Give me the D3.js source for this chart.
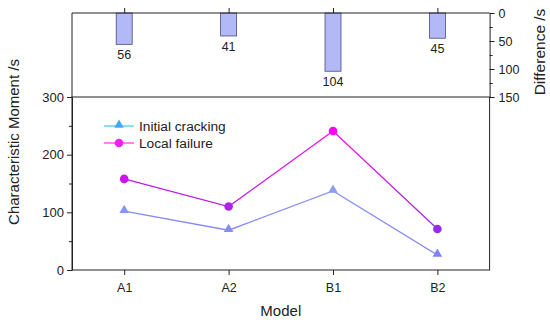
<!DOCTYPE html>
<html>
<head>
<meta charset="utf-8">
<script src="https://d3js.org/d3.v7.min.js"></script>
<style>
body { margin: 0; background: #fff; }
text { font-family: "Liberation Sans", Arial, sans-serif; fill: #222; }
.axis path, .axis line { stroke: #222; }
</style>
</head>
<body>
<div id="chart"></div>
<script>
var models = ["A1", "A2", "B1", "B2"];
var initialCracking = [102, 69, 137, 26];
var localFailure = [158, 110, 241, 71];
var difference = [56, 41, 104, 45];
var leftTicks = [0, 100, 200, 300];
var rightTicks = [0, 50, 100, 150];

var width = 550, height = 323;
var left = 72, right = 489.6;
var topTop = 13, topBottom = 97, botBottom = 270;

var svg = d3.select("#chart").append("svg")
  .attr("width", width).attr("height", height);

var x = d3.scaleLinear().domain([-0.5, 3.5]).range([left, right]);
var y = d3.scaleLinear().domain([0, 300]).range([botBottom, topBottom]);
var yd = d3.scaleLinear().domain([0, 150]).range([topTop, topBottom]);

// gradients for the lines
var defs = svg.append("defs");
function grad(id, c0, c1) {
  var g = defs.append("linearGradient").attr("id", id)
    .attr("gradientUnits", "userSpaceOnUse")
    .attr("x1", 0).attr("x2", 0)
    .attr("y1", y(60)).attr("y2", y(240));
  g.append("stop").attr("offset", 0).attr("stop-color", c0);
  g.append("stop").attr("offset", 1).attr("stop-color", c1);
}
grad("gLocal", "#8f2ee8", "#ff00f0");
grad("gInit", "#8484f4", "#8fa6ee");

// top panel bars
svg.selectAll(".bar").data(difference).enter().append("rect")
  .attr("x", function(d, i) { return x(i) - 8; })
  .attr("y", yd(0))
  .attr("width", 16)
  .attr("height", function(d) { return yd(d) - yd(0); })
  .attr("fill", "#b3b9f6")
  .attr("stroke", "#4a4a7a")
  .attr("stroke-width", 0.8);

svg.selectAll(".barlab").data(difference).enter().append("text")
  .attr("x", function(d, i) { return x(i); })
  .attr("y", function(d) { return yd(d) + 15; })
  .attr("text-anchor", "middle")
  .style("font-size", "12.5px")
  .text(function(d) { return d; });

// top panel frame
svg.append("line").attr("x1", left).attr("x2", right)
  .attr("y1", topTop).attr("y2", topTop).attr("stroke", "#222");
svg.append("line").attr("x1", left).attr("x2", left)
  .attr("y1", topTop).attr("y2", topBottom).attr("stroke", "#222");

// top ticks (upward at each model)
svg.append("g").attr("class", "axis")
  .attr("transform", "translate(0," + topTop + ")")
  .call(d3.axisTop(x).tickValues([0, 1, 2, 3]).tickFormat("").tickSize(5).tickSizeOuter(0))
  .select(".domain").remove();

// right axis for difference
var ra = svg.append("g").attr("class", "axis")
  .attr("transform", "translate(" + right + ",0)")
  .call(d3.axisRight(yd).tickValues(rightTicks).tickSize(5).tickSizeOuter(0));
ra.selectAll("text").style("font-size", "12.5px").attr("x", 9);
svg.append("g").attr("class", "axis")
  .attr("transform", "translate(" + right + ",0)")
  .call(d3.axisRight(yd).tickValues([25, 75, 125]).tickSize(3).tickFormat(""))
  .select(".domain").remove();

svg.append("text")
  .attr("transform", "translate(545,52) rotate(-90)")
  .attr("text-anchor", "middle")
  .style("font-size", "15.5px")
  .text("Difference /s");

// bottom panel frame
svg.append("rect").attr("x", left).attr("y", topBottom)
  .attr("width", right - left).attr("height", botBottom - topBottom)
  .attr("fill", "none").attr("stroke", "#222");

var la = svg.append("g").attr("class", "axis")
  .attr("transform", "translate(" + left + ",0)")
  .call(d3.axisLeft(y).tickValues(leftTicks).tickSize(5).tickSizeOuter(0));
la.selectAll("text").style("font-size", "13px");
svg.append("g").attr("class", "axis")
  .attr("transform", "translate(" + left + ",0)")
  .call(d3.axisLeft(y).tickValues([50, 150, 250]).tickSize(3).tickFormat(""))
  .select(".domain").remove();

var xa = svg.append("g").attr("class", "axis")
  .attr("transform", "translate(0," + botBottom + ")")
  .call(d3.axisBottom(x).tickValues([0, 1, 2, 3]).tickSize(5).tickSizeOuter(0)
    .tickFormat(function(i) { return models[i]; }));
xa.select(".domain").remove();
xa.selectAll("text").style("font-size", "12.5px").attr("dy", "1.1em");

svg.append("text")
  .attr("x", (left + right) / 2).attr("y", 316)
  .attr("text-anchor", "middle")
  .style("font-size", "15px")
  .text("Model");

svg.append("text")
  .attr("transform", "translate(19,142) rotate(-90)")
  .attr("text-anchor", "middle")
  .style("font-size", "15px")
  .text("Characteristic Moment /s");

// lines
var line = d3.line()
  .x(function(d, i) { return x(i); })
  .y(function(d) { return y(d); });

svg.append("path").attr("d", line(initialCracking))
  .attr("fill", "none").attr("stroke", "url(#gInit)").attr("stroke-width", 1.3);
svg.append("path").attr("d", line(localFailure))
  .attr("fill", "none").attr("stroke", "url(#gLocal)").attr("stroke-width", 1.3);

var tri = d3.symbol().type(d3.symbolTriangle).size(40);
var colInit = d3.scaleLinear().domain([26, 137]).range(["#7d84f2", "#8c9fee"]);
var colLocal = d3.scaleLinear().domain([60, 240]).range(["#8f2ee8", "#ff00f0"]);

svg.selectAll(".tri").data(initialCracking).enter().append("path")
  .attr("d", tri)
  .attr("transform", function(d, i) { return "translate(" + x(i) + "," + (y(d) - 1) + ")"; })
  .attr("fill", function(d) { return colInit(d); });

svg.selectAll(".dot").data(localFailure).enter().append("circle")
  .attr("cx", function(d, i) { return x(i); })
  .attr("cy", function(d) { return y(d); })
  .attr("r", 4.3)
  .attr("fill", function(d) { return colLocal(d); });

// legend
var lg = svg.append("g");
lg.append("line").attr("x1", 104).attr("x2", 134).attr("y1", 126).attr("y2", 126)
  .attr("stroke", "#50cce6").attr("stroke-width", 1.3);
lg.append("path").attr("d", tri)
  .attr("transform", "translate(119,125)").attr("fill", "#3fa9f2");
lg.append("text").attr("x", 139).attr("y", 131)
  .style("font-size", "13.7px").text("Initial cracking");
lg.append("line").attr("x1", 104).attr("x2", 134).attr("y1", 143).attr("y2", 143)
  .attr("stroke", "#ff3ce8").attr("stroke-width", 1.3);
lg.append("circle").attr("cx", 119).attr("cy", 143).attr("r", 4.3).attr("fill", "#f020f0");
lg.append("text").attr("x", 139).attr("y", 148)
  .style("font-size", "13.7px").text("Local failure");
</script>
</body>
</html>
